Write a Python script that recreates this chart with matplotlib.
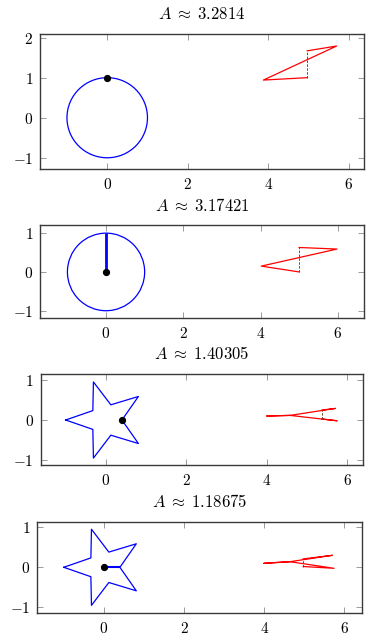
import matplotlib
matplotlib.use("Agg")
import matplotlib.pyplot as plt
from matplotlib.patches import Circle

plt.rcParams['mathtext.fontset'] = 'cm'
plt.rcParams['font.family'] = ['DejaVu Serif']

W, H = 382, 643

# ---------------- data ----------------
titles = [r"$A\;\approx\;3.2814$", r"$A\;\approx\;3.17421$",
          r"$A\;\approx\;1.40305$", r"$A\;\approx\;1.18675$"]

circle_center = (0.0, 0.0)
circle_radius = 1.0

star_x = [-1.0, -0.324, -0.309, 0.124, 0.809, 0.4, 0.809, 0.124, -0.309, -0.324, -1.0]
star_y = [0.0, 0.235, 0.951, 0.380, 0.588, 0.0, -0.588, -0.380, -0.951, -0.235, 0.0]

# shape per panel: 'circle' or 'star'
shapes = ['circle', 'circle', 'star', 'star']

# black marker point
dot_x = [0.0, 0.0, 0.4, 0.0]
dot_y = [1.0, 0.0, 0.0, 0.0]

# thick blue segment (None when absent)
seg_x = [None, [0.0, 0.0], None, [0.0, 0.4]]
seg_y = [None, [0.0, 1.0], None, [0.0, 0.0]]
seg_w = [0, 2.0, 0, 1.5]

# red solid paths
red_x = [
    [4.97, 5.70, 3.88, 4.97],
    [5.00, 5.98, 4.02, 5.00],
    [5.38, 5.71, 4.58, 4.00, 4.58, 5.75, 5.38],
    [4.97, 5.70, 4.64, 3.99, 4.64, 5.74, 4.97],
]
red_y = [
    [1.67, 1.79, 0.94, 1.00],
    [0.63, 0.59, 0.15, 0.00],
    [0.25, 0.29, 0.115, 0.10, 0.115, -0.02, 0.025],
    [0.21, 0.30, 0.14, 0.10, 0.14, -0.025, 0.02],
]
# dashed vertical connector
dash_x = [[4.97, 4.97], [5.00, 5.00], [5.38, 5.38], [4.97, 4.97]]
dash_y = [[1.00, 1.67], [0.00, 0.63], [0.025, 0.25], [0.02, 0.21]]

xlims = [(-1.67, 6.38), (-1.71, 6.68), (-1.62, 6.40), (-1.66, 6.43)]
ylims = [(-1.28, 2.09), (-1.18, 1.21), (-1.125, 1.15), (-1.135, 1.14)]
xticks = [0, 2, 4, 6]
yticks = [[-1, 0, 1, 2], [-1, 0, 1], [-1, 0, 1], [-1, 0, 1]]

# ---------------- layout (pixels) ----------------
boxes = [(40, 364, 34, 169), (40, 364, 225, 317.7),
         (40.7, 363.3, 374, 465), (37.3, 361.7, 521.7, 612.7)]
title_base = [19.3, 210.7, 359.3, 506.7]

fig = plt.figure(figsize=(W / 100, H / 100), dpi=100)

def mlabel(v):
    return r"$%d$" % v if v >= 0 else r"$-%d$" % (-v)

for i in range(4):
    l, r, t, b = boxes[i]
    ax = fig.add_axes([l / W, 1 - b / H, (r - l) / W, (b - t) / H])
    if shapes[i] == 'circle':
        ax.add_patch(Circle(circle_center, circle_radius, fill=False,
                            edgecolor='#0000ff', lw=0.9))
    else:
        ax.plot(star_x, star_y, color='#0000ff', lw=0.9)
    if seg_x[i] is not None:
        ax.plot(seg_x[i], seg_y[i], color='#0000ff', lw=seg_w[i], solid_capstyle='butt')
    ax.plot(red_x[i], red_y[i], color='#ff0000', lw=0.9)
    ax.plot(dash_x[i], dash_y[i], color='#6b4a2a', lw=0.7, ls=(0, (2.5, 1.5)))
    ax.plot([dot_x[i]], [dot_y[i]], 'o', color='black', ms=4.2, zorder=5)

    ax.set_xlim(*xlims[i])
    ax.set_ylim(*ylims[i])
    ax.set_xticks(xticks)
    ax.set_yticks(yticks[i])
    ax.set_xticklabels([mlabel(v) for v in xticks])
    ax.set_yticklabels([mlabel(v) for v in yticks[i]])
    ax.tick_params(direction='in', length=4, width=0.6, color='#8a8a8a',
                   top=True, right=True, labelsize=11)
    ax.tick_params(axis='x', pad=6)
    ax.tick_params(axis='y', pad=5)
    for s in ax.spines.values():
        s.set_linewidth(1.0)
        s.set_color('#3a3a3a')
    fig.text((l + r) / 2 / W, 1 - title_base[i] / H, titles[i],
             ha='center', va='baseline', fontsize=12)

fig.savefig("out.png", dpi=100)
